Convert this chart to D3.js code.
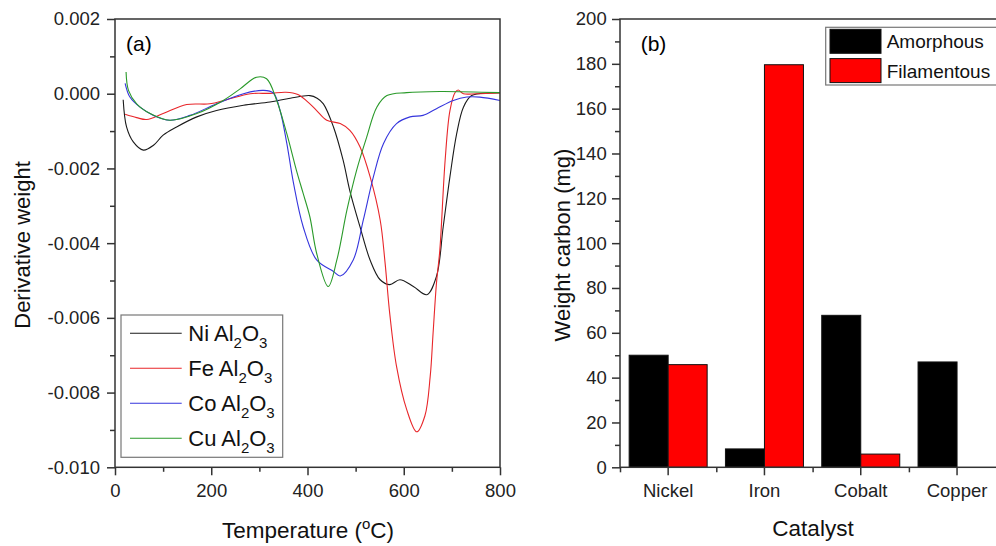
<!DOCTYPE html>
<html>
<head>
<meta charset="utf-8">
<script src="https://cdn.jsdelivr.net/npm/d3@7"></script>
<style>
    body { margin: 0; background: #fff; }
    svg { font-family: "Liberation Sans", Arial, sans-serif; }
    .frame { fill: none; stroke: #333; stroke-width: 1.5; }
    .tick line { stroke: #333; stroke-width: 1.5; }
    .tick text { fill: #222; font-size: 18.5px; }
    .curve { fill: none; stroke-width: 1.1; }
</style>
</head>
<body>
<div id="chart"></div>
<script>
// (a) derivative weight curves
let niTemp = [17, 24, 38, 59, 80, 100, 128, 170, 211, 267, 322, 364, 405, 420, 433, 454, 474, 488, 509, 530, 551, 571, 592, 620, 648, 668, 682, 696, 710, 724, 741, 779, 800];
let niVal = [-0.00016, -0.00089, -0.00129, -0.00151, -0.00138, -0.00111, -0.00089, -0.00062, -0.00045, -0.00031, -0.00022, -0.00012, -0.00005, -0.00012, -0.00027, -0.00089, -0.00178, -0.0026, -0.00356, -0.00445, -0.00498, -0.00511, -0.00498, -0.00516, -0.00538, -0.00489, -0.00356, -0.00222, -0.00107, -0.00036, -0.00005, 0.00002, 0.00003];

let feTemp = [21, 45, 66, 100, 149, 197, 232, 281, 322, 355, 380, 405, 419, 440, 468, 488, 509, 530, 551, 561, 571, 585, 606, 627, 644, 655, 661, 668, 675, 686, 696, 707, 713, 724, 751, 800];
let feVal = [-0.00055, -0.00064, -0.00069, -0.00053, -0.00029, -0.00027, -0.00016, 0, 0.00001, 0.00004, -0.00002, -0.00027, -0.00045, -0.00071, -0.0008, -0.00098, -0.00142, -0.00222, -0.00338, -0.0045, -0.0059, -0.0073, -0.00845, -0.00905, -0.00862, -0.00756, -0.0064, -0.00507, -0.00418, -0.00178, -0.00045, 0.00004, 0.0001, 0, 0, 0.00002];

let coTemp = [21, 31, 52, 80, 114, 156, 211, 267, 308, 329, 343, 357, 371, 391, 419, 454, 468, 495, 516, 537, 558, 585, 613, 640, 668, 703, 731, 758, 800];
let coVal = [0.00028, -0.00009, -0.00036, -0.00058, -0.00071, -0.00058, -0.00027, 0, 0.00009, 0.00002, -0.00045, -0.00133, -0.0024, -0.00356, -0.00445, -0.00476, -0.00488, -0.00445, -0.00338, -0.00222, -0.00133, -0.0008, -0.00062, -0.00058, -0.0004, -0.00018, -0.00009, -0.00009, -0.00018];

let cuTemp = [23, 28, 45, 73, 114, 170, 225, 260, 294, 315, 336, 357, 377, 391, 405, 419, 443, 461, 482, 502, 523, 544, 565, 606, 675, 800];
let cuVal = [0.00058, 0.00009, -0.00027, -0.00053, -0.00071, -0.00053, -0.00018, 0.00013, 0.00044, 0.0004, -0.00018, -0.00107, -0.00205, -0.00267, -0.0033, -0.00427, -0.00516, -0.00445, -0.00311, -0.00205, -0.00116, -0.00036, -0.00005, 0.00003, 0.00006, 0.00003];

let seriesNames = ["Ni", "Fe", "Co", "Cu"];
let seriesColors = ["#1a1a1a", "#e8262a", "#3535dd", "#2a9a2a"];
let tempTicks = [0, 200, 400, 600, 800];
let derivTicks = [0.002, 0, -0.002, -0.004, -0.006, -0.008, -0.010];
let derivTickLabels = ["0.002", "0.000", "-0.002", "-0.004", "-0.006", "-0.008", "-0.010"];

// (b) carbon weight per catalyst
let catalysts = ["Nickel", "Iron", "Cobalt", "Copper"];
let carbonTypes = ["Amorphous", "Filamentous"];
let amorphous = [50, 8.2, 67.8, 47];
let filamentous = [45.8, 179.6, 5.9, 0];
let carbonTicks = [0, 20, 40, 60, 80, 100, 120, 140, 160, 180, 200];

let svg = d3.select("#chart").append("svg")
    .attr("width", 996)
    .attr("height", 546);

let zip = (ts, vs) => ts.map((t, i) => ({t: t, v: vs[i]}));
let curves = [zip(niTemp, niVal), zip(feTemp, feVal), zip(coTemp, coVal), zip(cuTemp, cuVal)];

// ---------- panel (a)
let x = d3.scaleLinear().domain([0, 800]).range([115, 500]);
let y = d3.scaleLinear().domain([-0.010, 0.002]).range([467.3, 19]);

let line = d3.line()
    .x(d => x(d.t))
    .y(d => y(d.v))
    .curve(d3.curveCatmullRom.alpha(0.5));

svg.append("g").selectAll("path")
  .data(curves)
  .join("path")
    .attr("class", "curve")
    .attr("stroke", (d, i) => seriesColors[i])
    .attr("d", line);

svg.append("g")
    .attr("transform", "translate(0," + y.range()[0] + ")")
    .call(d3.axisBottom(x).tickValues(d3.range(100, 800, 200)).tickSize(4.5).tickFormat(""))
    .call(g => g.select(".domain").remove());
svg.append("g")
    .attr("transform", "translate(0," + y.range()[0] + ")")
    .call(d3.axisBottom(x).tickValues(tempTicks).tickSize(8).tickPadding(8.3).tickFormat(d3.format("d")))
    .call(g => g.select(".domain").remove());

svg.append("g")
    .attr("transform", "translate(" + x.range()[0] + ",0)")
    .call(d3.axisLeft(y).tickValues(d3.range(-0.009, 0.002, 0.002)).tickSize(5).tickFormat(""))
    .call(g => g.select(".domain").remove());
svg.append("g")
    .attr("transform", "translate(" + x.range()[0] + ",0)")
    .call(d3.axisLeft(y).tickValues(derivTicks).tickSize(8).tickPadding(7)
        .tickFormat((d, i) => derivTickLabels[i]))
    .call(g => g.select(".domain").remove());

svg.append("rect")
    .attr("class", "frame")
    .attr("x", x.range()[0])
    .attr("y", y.range()[1])
    .attr("width", x.range()[1] - x.range()[0])
    .attr("height", y.range()[0] - y.range()[1]);

svg.append("text")
    .attr("x", 126).attr("y", 51)
    .attr("font-size", 21)
    .text("(a)");

// legend (a)
let legA = svg.append("g");
legA.append("rect")
    .attr("x", 121).attr("y", 315)
    .attr("width", 161.7).attr("height", 142.3)
    .attr("fill", "#fff")
    .attr("stroke", "#777")
    .attr("stroke-width", 1.2);
let legItems = legA.selectAll("g.item")
  .data(seriesNames)
  .join("g")
    .attr("class", "item")
    .attr("transform", (d, i) => "translate(0," + (333.3 + i * 35) + ")");
legItems.append("line")
    .attr("x1", 130).attr("x2", 181.7)
    .attr("stroke", (d, i) => seriesColors[i])
    .attr("stroke-width", 1.1);
let legText = legItems.append("text")
    .attr("x", 188.3).attr("y", 7.7)
    .attr("font-size", 22)
    .attr("fill", "#111");
legText.append("tspan").text(d => d + " Al");
legText.append("tspan").attr("font-size", 15).attr("dy", 7).text("2");
legText.append("tspan").attr("dy", -7).text("O");
legText.append("tspan").attr("font-size", 15).attr("dy", 7).text("3");

let xTitle = svg.append("text")
    .attr("x", 308).attr("y", 538)
    .attr("text-anchor", "middle")
    .attr("font-size", 22.5)
    .attr("fill", "#111");
xTitle.append("tspan").text("Temperature (");
xTitle.append("tspan").attr("font-size", 15).attr("dy", -9).text("o");
xTitle.append("tspan").attr("dy", 9).text("C)");

svg.append("text")
    .attr("transform", "translate(30,245) rotate(-90)")
    .attr("text-anchor", "middle")
    .attr("font-size", 22)
    .attr("fill", "#111")
    .text("Derivative weight");

// ---------- panel (b)
let x0 = d3.scaleBand().domain(catalysts).range([620, 1005.2]).paddingInner(0.19).paddingOuter(0.095);
let x1 = d3.scaleBand().domain(carbonTypes).range([0, x0.bandwidth()]);
let yb = d3.scaleLinear().domain([0, 200]).range([467.3, 19]);
let barColors = ["#000000", "#ff0000"];

let groups = svg.append("g").selectAll("g")
  .data(catalysts)
  .join("g")
    .attr("transform", d => "translate(" + x0(d) + ",0)");
groups.selectAll("rect")
  .data((d, i) => [amorphous[i], filamentous[i]].map((v, j) => ({type: carbonTypes[j], value: v})))
  .join("rect")
    .filter(d => d.value > 0)
    .attr("x", d => x1(d.type))
    .attr("y", d => yb(d.value))
    .attr("width", x1.bandwidth())
    .attr("height", d => yb(0) - yb(d.value))
    .attr("fill", d => barColors[carbonTypes.indexOf(d.type)])
    .attr("stroke", "#111")
    .attr("stroke-width", 1);

let step = x0.step();
let centers = catalysts.map(c => x0(c) + x0.bandwidth() / 2);
let bounds = centers.map(c => c - step / 2);

svg.append("g")
    .attr("transform", "translate(0," + yb.range()[0] + ")")
    .call(d3.axisBottom(d3.scaleIdentity()).tickValues(bounds).tickSize(5).tickFormat(""))
    .call(g => g.select(".domain").remove());
svg.append("g")
    .attr("transform", "translate(0," + yb.range()[0] + ")")
    .call(d3.axisBottom(x0).tickSize(8).tickPadding(8.3))
    .call(g => g.select(".domain").remove());

svg.append("g")
    .attr("transform", "translate(620,0)")
    .call(d3.axisLeft(yb).tickValues(d3.range(10, 200, 20)).tickSize(5).tickFormat(""))
    .call(g => g.select(".domain").remove());
svg.append("g")
    .attr("transform", "translate(620,0)")
    .call(d3.axisLeft(yb).tickValues(carbonTicks).tickSize(8).tickPadding(5.3).tickFormat(d3.format("d")))
    .call(g => g.select(".domain").remove());

svg.append("rect")
    .attr("class", "frame")
    .attr("x", 620)
    .attr("y", yb.range()[1])
    .attr("width", 1005.2 - 620)
    .attr("height", yb.range()[0] - yb.range()[1]);

svg.append("text")
    .attr("x", 640.7).attr("y", 51)
    .attr("font-size", 21)
    .text("(b)");

// legend (b)
let legB = svg.append("g");
legB.append("rect")
    .attr("x", 825.7).attr("y", 27.3)
    .attr("width", 200).attr("height", 57.7)
    .attr("fill", "#fff")
    .attr("stroke", "#777")
    .attr("stroke-width", 1.2);
let legBItems = legB.selectAll("g.item")
  .data(carbonTypes)
  .join("g")
    .attr("class", "item")
    .attr("transform", (d, i) => "translate(0," + (29.3 + i * 29.3) + ")");
legBItems.append("rect")
    .attr("x", 830).attr("width", 51).attr("height", 24)
    .attr("fill", (d, i) => barColors[i])
    .attr("stroke", "#111");
legBItems.append("text")
    .attr("x", 886.7).attr("y", 19)
    .attr("font-size", 19)
    .attr("fill", "#111")
    .text(d => d);

svg.append("text")
    .attr("x", 813).attr("y", 536)
    .attr("text-anchor", "middle")
    .attr("font-size", 22.5)
    .attr("fill", "#111")
    .text("Catalyst");

svg.append("text")
    .attr("transform", "translate(570,245) rotate(-90)")
    .attr("text-anchor", "middle")
    .attr("font-size", 22)
    .attr("fill", "#111")
    .text("Weight carbon (mg)");
</script>
</body>
</html>
